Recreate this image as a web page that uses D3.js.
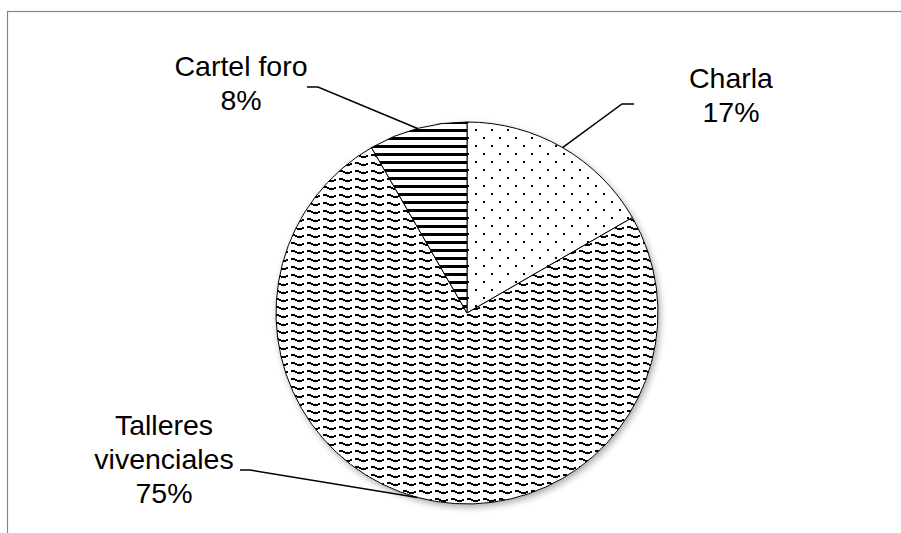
<!DOCTYPE html>
<html>
<head>
<meta charset="utf-8">
<script src="https://cdn.jsdelivr.net/npm/d3@7"></script>
<style>
  html, body { margin: 0; padding: 0; background: #fff; }
  text { font-family: Arial, "Liberation Sans", sans-serif; fill: #000; }
</style>
</head>
<body>
<div id="chart"></div>
<script>
// data (slices are 2 : 9 : 1 -> 17%, 75%, 8%)
const categories = ['Charla', 'Talleres vivenciales', 'Cartel foro'];
const values = [2, 9, 1];
const labelLines = [['Charla'], ['Talleres', 'vivenciales'], ['Cartel foro']];

const WIDTH = 901;
const HEIGHT = 533;
const CX = 467, CY = 313, R = 191;
const FONT = 28.5, LINE = 34;

// label blocks: centre x, baseline of first line, leader elbow point
const LABELS = [
  {x: 731, y: 88, elbow: [622, 104], end: [634, 104]},
  {x: 164, y: 435, elbow: [250, 470], end: [240, 470]},
  {x: 241, y: 76, elbow: [318, 87], end: [307, 87]}
];
const PATTERNS = ['pat-dots', 'pat-wave', 'pat-hlines'];

const svg = d3.select('#chart')
  .append('svg')
    .attr('width', WIDTH)
    .attr('height', HEIGHT);

const defs = svg.append('defs');

// sparse dots
const dots = defs.append('pattern')
  .attr('id', 'pat-dots')
  .attr('patternUnits', 'userSpaceOnUse')
  .attr('width', 16).attr('height', 16);
dots.append('rect').attr('width', 16).attr('height', 16).attr('fill', '#fff');
dots.append('rect').attr('x', 0).attr('y', 0).attr('width', 2).attr('height', 2).attr('fill', '#000');
dots.append('rect').attr('x', 8).attr('y', 8).attr('width', 2).attr('height', 2).attr('fill', '#000');

// horizontal lines
const hl = defs.append('pattern')
  .attr('id', 'pat-hlines')
  .attr('patternUnits', 'userSpaceOnUse')
  .attr('width', 8).attr('height', 8);
hl.append('rect').attr('width', 8).attr('height', 8).attr('fill', '#fff');
hl.append('rect').attr('x', 0).attr('y', 0).attr('width', 8).attr('height', 3).attr('fill', '#000');

// blocky waves
const wv = defs.append('pattern')
  .attr('id', 'pat-wave')
  .attr('patternUnits', 'userSpaceOnUse')
  .attr('width', 16).attr('height', 8);
wv.append('rect').attr('width', 16).attr('height', 8).attr('fill', '#fff');
[[0, 1, 4, 2], [4, 2, 2, 2], [6, 3, 5, 2], [11, 2, 2, 2]].forEach(b => {
  wv.append('rect')
    .attr('x', b[0]).attr('y', b[1])
    .attr('width', b[2]).attr('height', b[3])
    .attr('fill', '#000');
});

const shadow = defs.append('filter')
  .attr('id', 'shadow')
  .attr('x', '-20%').attr('y', '-20%')
  .attr('width', '140%').attr('height', '140%');
shadow.append('feDropShadow')
  .attr('dx', 2).attr('dy', 3)
  .attr('stdDeviation', 3.5)
  .attr('flood-color', '#000')
  .attr('flood-opacity', 0.35);

// chart area border (runs off the right and bottom)
svg.append('rect')
  .attr('x', 7.5).attr('y', 11.5)
  .attr('width', WIDTH).attr('height', HEIGHT)
  .attr('fill', 'none')
  .attr('stroke', '#868686')
  .attr('stroke-width', 1.2);

const pie = d3.pie().sort(null).value(d => d);
const arcs = pie(values);
const total = d3.sum(values);

const arc = d3.arc().innerRadius(0).outerRadius(R);
const edge = d3.arc().innerRadius(R).outerRadius(R);

const g = svg.append('g')
  .attr('transform', `translate(${CX}, ${CY})`);

g.append('circle')
  .attr('r', R)
  .attr('fill', '#fff')
  .attr('filter', 'url(#shadow)');

g.selectAll('path.slice')
  .data(arcs)
  .enter().append('path')
    .attr('class', 'slice')
    .attr('d', arc)
    .attr('fill', (d, i) => `url(#${PATTERNS[i]})`)
    .attr('stroke', '#000')
    .attr('stroke-width', 1)
    .attr('stroke-linejoin', 'round');

// leader lines
svg.selectAll('polyline.leader')
  .data(arcs)
  .enter().append('polyline')
    .attr('class', 'leader')
    .attr('points', (d, i) => {
      const c = edge.centroid(d);
      const L = LABELS[i];
      return [[CX + c[0], CY + c[1]], L.elbow, L.end].map(p => p.join(',')).join(' ');
    })
    .attr('fill', 'none')
    .attr('stroke', '#000')
    .attr('stroke-width', 1.5);

// labels
const fmt = d3.format('.0%');
const labels = svg.selectAll('text.lbl')
  .data(arcs)
  .enter().append('text')
    .attr('class', 'lbl')
    .attr('text-anchor', 'middle')
    .attr('font-size', FONT);

labels.each(function(d, i) {
  const t = d3.select(this);
  const lines = labelLines[i].concat([fmt(d.value / total)]);
  lines.forEach((s, k) => {
    t.append('tspan')
      .attr('x', LABELS[i].x)
      .attr('y', LABELS[i].y + k * LINE)
      .text(s);
  });
});
</script>
</body>
</html>
